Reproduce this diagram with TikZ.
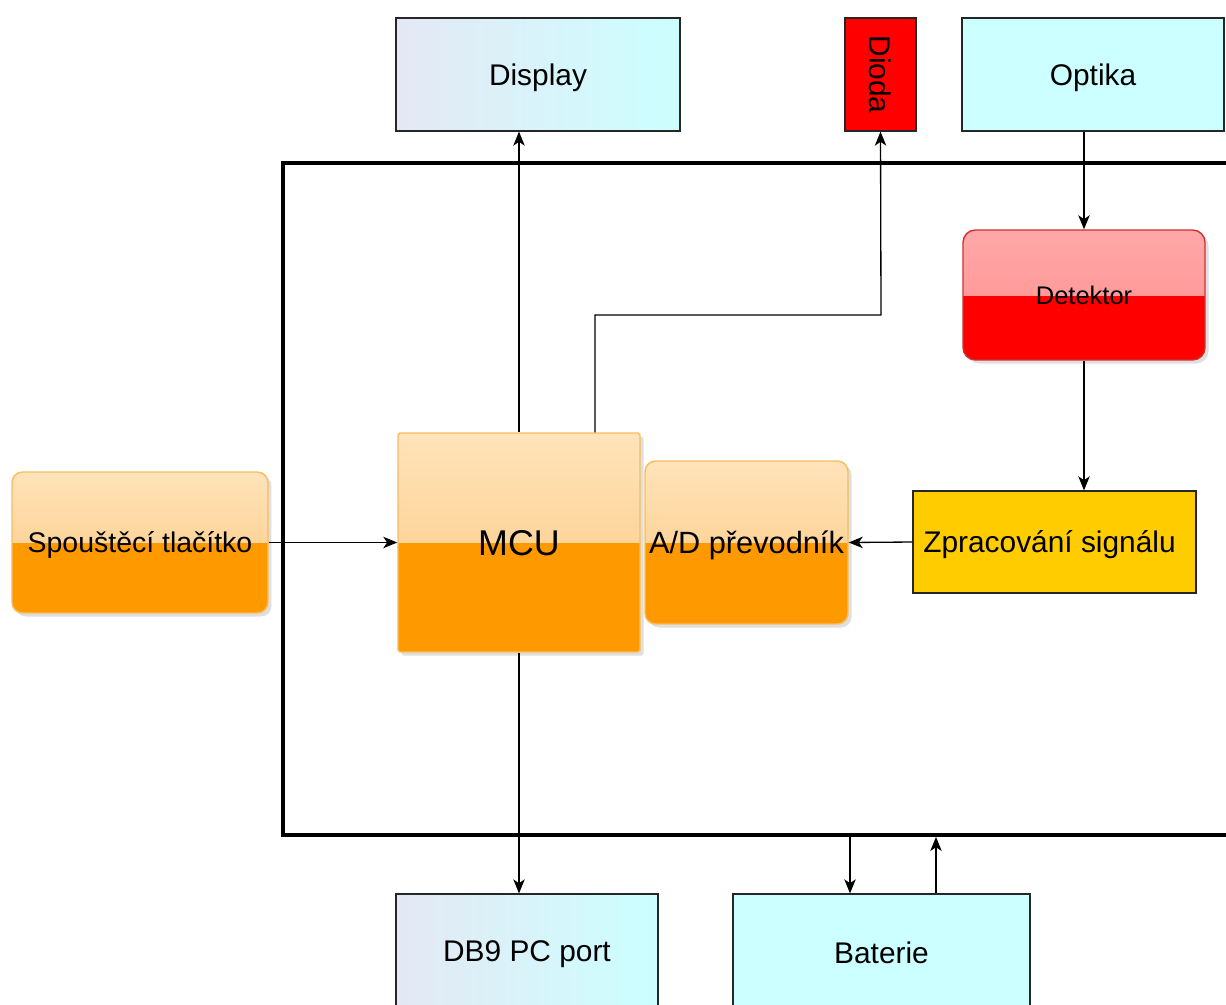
\documentclass[tikz,border=0pt]{standalone}
\usepackage{fontspec}
\setmainfont{Liberation Sans}
\usetikzlibrary{arrows.meta,shadows}

\definecolor{paleCyan}{HTML}{CCFFFF}
\definecolor{paleLav}{HTML}{E4E8F4}
\definecolor{orangeLow}{HTML}{FF9900}
\definecolor{orangeTop}{HTML}{FFE3BA}
\definecolor{orangeMid}{HTML}{FCC77C}
\definecolor{orangeRim}{HTML}{F7BE5C}
\definecolor{redTop}{HTML}{FFA8A8}
\definecolor{redMid}{HTML}{FF8C8C}
\definecolor{redRim}{HTML}{D03030}
\definecolor{signal}{HTML}{FFCC00}

\tikzset{
  capped/.style={text height=#1, text depth=0pt},
  plain/.style={draw=black!85, line width=0.7pt, inner sep=0pt, font=\fontsize{17}{20}\selectfont},
  paleshade/.style={left color=paleLav, right color=paleCyan},
  orangebox/.style={rounded corners=6pt, fill=orangeLow, draw=orangeRim, line width=0.8pt,
    inner sep=0pt, font=\fontsize{17}{20}\selectfont,
    drop shadow={opacity=0.25, shadow xshift=2pt, shadow yshift=-2pt},
    path picture={\fill[sharp corners, top color=orangeTop, bottom color=orangeMid]
      (path picture bounding box.north west) rectangle (path picture bounding box.east);}},
  redbox/.style={rounded corners=7pt, fill=red, draw=redRim, line width=0.8pt,
    inner sep=0pt, font=\fontsize{14.5}{17}\selectfont,
    drop shadow={opacity=0.25, shadow xshift=2pt, shadow yshift=-2pt},
    path picture={\fill[sharp corners, top color=redTop, bottom color=redMid]
      (path picture bounding box.north west) rectangle (path picture bounding box.east);}},
  frame/.style={draw=black, line width=2.3pt, inner sep=0pt},
  wire/.style={draw=black, line width=0.75pt, -{Stealth[length=8pt,width=6.5pt,inset=2.2pt]}}
}

\begin{document}
\begin{tikzpicture}[x=0.02cm,y=-0.02cm]
\useasboundingbox (0,0) rectangle (1226,1004);
\clip (0,0) rectangle (1226,1004);
\fill[white] (0,0) rectangle (1226,1004);

% frame of the device
\node[frame, minimum width=19.8cm, minimum height=13.44cm] (board) at (778,499) {};

% blocks outside
\node[plain, paleshade, capped=12.2pt, minimum width=5.68cm, minimum height=2.26cm] (display) at (538,74.5) {Display};
\node[plain, fill=red, minimum width=1.42cm, minimum height=2.26cm] (dioda) at (880.5,74.5) {\rotatebox{-90}{Dioda}};
\node[plain, fill=paleCyan, capped=12.2pt, minimum width=5.24cm, minimum height=2.26cm] (optika) at (1093,74.5) {Optika};
\node[orangebox, capped=11.6pt, minimum width=5.12cm, minimum height=2.82cm, font=\fontsize{16.2}{19}\selectfont] (spoust) at (140,542.5) {Spouštěcí tlačítko};
\node[plain, paleshade, capped=12.2pt, minimum width=5.24cm, minimum height=2.26cm] (db9) at (527,950.5) {DB9 PC port};
\node[plain, fill=paleCyan, capped=12.2pt, minimum width=5.94cm, minimum height=2.36cm] (baterie) at (881.5,953) {Baterie};

% blocks inside
\node[redbox, capped=10.4pt, minimum width=4.84cm, minimum height=2.6cm] (detektor) at (1084,295) {Detektor};
\node[plain, fill=signal, capped=12.2pt, minimum width=5.66cm, minimum height=2.04cm] (zprac) at (1054.5,542) {\hspace*{-0.2cm}Zpracování signálu};
\node[orangebox, capped=14.6pt, rounded corners=1pt, minimum width=4.84cm, minimum height=4.38cm, font=\fontsize{20.4}{24}\selectfont] (mcu) at (519,542.5) {MCU};
\node[orangebox, capped=12.5pt, minimum width=4.06cm, minimum height=3.26cm, font=\fontsize{17.5}{21}\selectfont] (ad) at (746.5,542.5) {A/D převodník};

\coordinate (mcuout) at ([xshift=1.52cm]mcu.north);
\coordinate (kink) at (881,315);
\coordinate (batin) at ([xshift=-0.63cm]baterie.north);
\coordinate (batout) at ([xshift=1.09cm]baterie.north);

\draw[wire] (mcu.north) -- (mcu.north |- display.south);
\draw[wire] (mcuout) |- (kink) -- (dioda.south);
\draw[wire] (detektor.north |- optika.south) -- (detektor.north);
\draw[wire] (detektor.south) -- (detektor.south |- zprac.north);
\draw[wire] (zprac.west) -- (ad.east);
\draw[wire] (spoust.east) -- (mcu.west);
\draw[wire] (mcu.south) -- (mcu.south |- db9.north);
\draw[wire] (batin |- board.south) -- (batin);
\draw[wire] (batout) -- (batout |- board.south);
\end{tikzpicture}
\end{document}
